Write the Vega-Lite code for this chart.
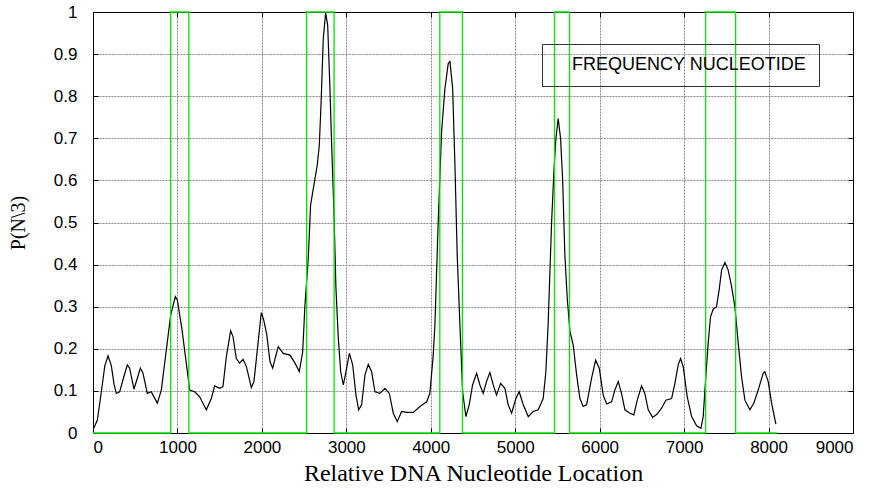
{
  "$schema": "https://vega.github.io/schema/vega-lite/v6.json",
  "width": 760,
  "height": 421,
  "autosize": "none",
  "padding": {"left": 93, "top": 12, "right": 30, "bottom": 56},
  "background": "white",
  "config": {
    "view": {"stroke": "black", "strokeWidth": 1},
    "axis": {
      "labelFont": "Liberation Sans",
      "labelFontSize": 17,
      "labelColor": "black",
      "domainColor": "black",
      "tickColor": "black",
      "gridColor": "#8a8a8a",
      "gridDash": [2, 1],
      "gridWidth": 1,
      "titleFont": "Liberation Serif",
      "titleFontSize": 20,
      "titleFontWeight": "normal",
      "titleColor": "black"
    }
  },
  "datasets": {
    "curve": [
      {"x": 10, "y": 0.012, "series": "FREQUENCY NUCLEOTIDE"},
      {"x": 51, "y": 0.03, "series": "FREQUENCY NUCLEOTIDE"},
      {"x": 99, "y": 0.098, "series": "FREQUENCY NUCLEOTIDE"},
      {"x": 140, "y": 0.16, "series": "FREQUENCY NUCLEOTIDE"},
      {"x": 178, "y": 0.183, "series": "FREQUENCY NUCLEOTIDE"},
      {"x": 217, "y": 0.16, "series": "FREQUENCY NUCLEOTIDE"},
      {"x": 250, "y": 0.115, "series": "FREQUENCY NUCLEOTIDE"},
      {"x": 276, "y": 0.094, "series": "FREQUENCY NUCLEOTIDE"},
      {"x": 316, "y": 0.098, "series": "FREQUENCY NUCLEOTIDE"},
      {"x": 360, "y": 0.13, "series": "FREQUENCY NUCLEOTIDE"},
      {"x": 406, "y": 0.162, "series": "FREQUENCY NUCLEOTIDE"},
      {"x": 434, "y": 0.154, "series": "FREQUENCY NUCLEOTIDE"},
      {"x": 485, "y": 0.104, "series": "FREQUENCY NUCLEOTIDE"},
      {"x": 525, "y": 0.13, "series": "FREQUENCY NUCLEOTIDE"},
      {"x": 561, "y": 0.154, "series": "FREQUENCY NUCLEOTIDE"},
      {"x": 592, "y": 0.142, "series": "FREQUENCY NUCLEOTIDE"},
      {"x": 643, "y": 0.094, "series": "FREQUENCY NUCLEOTIDE"},
      {"x": 691, "y": 0.098, "series": "FREQUENCY NUCLEOTIDE"},
      {"x": 710, "y": 0.09, "series": "FREQUENCY NUCLEOTIDE"},
      {"x": 762, "y": 0.071, "series": "FREQUENCY NUCLEOTIDE"},
      {"x": 809, "y": 0.102, "series": "FREQUENCY NUCLEOTIDE"},
      {"x": 868, "y": 0.197, "series": "FREQUENCY NUCLEOTIDE"},
      {"x": 920, "y": 0.28, "series": "FREQUENCY NUCLEOTIDE"},
      {"x": 975, "y": 0.324, "series": "FREQUENCY NUCLEOTIDE"},
      {"x": 999, "y": 0.316, "series": "FREQUENCY NUCLEOTIDE"},
      {"x": 1054, "y": 0.245, "series": "FREQUENCY NUCLEOTIDE"},
      {"x": 1105, "y": 0.166, "series": "FREQUENCY NUCLEOTIDE"},
      {"x": 1145, "y": 0.102, "series": "FREQUENCY NUCLEOTIDE"},
      {"x": 1204, "y": 0.098, "series": "FREQUENCY NUCLEOTIDE"},
      {"x": 1263, "y": 0.086, "series": "FREQUENCY NUCLEOTIDE"},
      {"x": 1342, "y": 0.055, "series": "FREQUENCY NUCLEOTIDE"},
      {"x": 1401, "y": 0.082, "series": "FREQUENCY NUCLEOTIDE"},
      {"x": 1441, "y": 0.112, "series": "FREQUENCY NUCLEOTIDE"},
      {"x": 1500, "y": 0.106, "series": "FREQUENCY NUCLEOTIDE"},
      {"x": 1539, "y": 0.11, "series": "FREQUENCY NUCLEOTIDE"},
      {"x": 1579, "y": 0.181, "series": "FREQUENCY NUCLEOTIDE"},
      {"x": 1630, "y": 0.243, "series": "FREQUENCY NUCLEOTIDE"},
      {"x": 1658, "y": 0.229, "series": "FREQUENCY NUCLEOTIDE"},
      {"x": 1697, "y": 0.177, "series": "FREQUENCY NUCLEOTIDE"},
      {"x": 1737, "y": 0.166, "series": "FREQUENCY NUCLEOTIDE"},
      {"x": 1776, "y": 0.175, "series": "FREQUENCY NUCLEOTIDE"},
      {"x": 1816, "y": 0.158, "series": "FREQUENCY NUCLEOTIDE"},
      {"x": 1875, "y": 0.108, "series": "FREQUENCY NUCLEOTIDE"},
      {"x": 1906, "y": 0.122, "series": "FREQUENCY NUCLEOTIDE"},
      {"x": 1954, "y": 0.213, "series": "FREQUENCY NUCLEOTIDE"},
      {"x": 1993, "y": 0.286, "series": "FREQUENCY NUCLEOTIDE"},
      {"x": 2020, "y": 0.27, "series": "FREQUENCY NUCLEOTIDE"},
      {"x": 2057, "y": 0.235, "series": "FREQUENCY NUCLEOTIDE"},
      {"x": 2096, "y": 0.169, "series": "FREQUENCY NUCLEOTIDE"},
      {"x": 2128, "y": 0.154, "series": "FREQUENCY NUCLEOTIDE"},
      {"x": 2160, "y": 0.18, "series": "FREQUENCY NUCLEOTIDE"},
      {"x": 2194, "y": 0.205, "series": "FREQUENCY NUCLEOTIDE"},
      {"x": 2253, "y": 0.189, "series": "FREQUENCY NUCLEOTIDE"},
      {"x": 2333, "y": 0.185, "series": "FREQUENCY NUCLEOTIDE"},
      {"x": 2392, "y": 0.166, "series": "FREQUENCY NUCLEOTIDE"},
      {"x": 2443, "y": 0.146, "series": "FREQUENCY NUCLEOTIDE"},
      {"x": 2483, "y": 0.193, "series": "FREQUENCY NUCLEOTIDE"},
      {"x": 2510, "y": 0.304, "series": "FREQUENCY NUCLEOTIDE"},
      {"x": 2549, "y": 0.415, "series": "FREQUENCY NUCLEOTIDE"},
      {"x": 2577, "y": 0.542, "series": "FREQUENCY NUCLEOTIDE"},
      {"x": 2629, "y": 0.605, "series": "FREQUENCY NUCLEOTIDE"},
      {"x": 2656, "y": 0.637, "series": "FREQUENCY NUCLEOTIDE"},
      {"x": 2680, "y": 0.684, "series": "FREQUENCY NUCLEOTIDE"},
      {"x": 2700, "y": 0.779, "series": "FREQUENCY NUCLEOTIDE"},
      {"x": 2727, "y": 0.937, "series": "FREQUENCY NUCLEOTIDE"},
      {"x": 2755, "y": 0.998, "series": "FREQUENCY NUCLEOTIDE"},
      {"x": 2779, "y": 0.969, "series": "FREQUENCY NUCLEOTIDE"},
      {"x": 2806, "y": 0.819, "series": "FREQUENCY NUCLEOTIDE"},
      {"x": 2826, "y": 0.684, "series": "FREQUENCY NUCLEOTIDE"},
      {"x": 2853, "y": 0.526, "series": "FREQUENCY NUCLEOTIDE"},
      {"x": 2877, "y": 0.344, "series": "FREQUENCY NUCLEOTIDE"},
      {"x": 2905, "y": 0.225, "series": "FREQUENCY NUCLEOTIDE"},
      {"x": 2933, "y": 0.146, "series": "FREQUENCY NUCLEOTIDE"},
      {"x": 2964, "y": 0.114, "series": "FREQUENCY NUCLEOTIDE"},
      {"x": 2996, "y": 0.146, "series": "FREQUENCY NUCLEOTIDE"},
      {"x": 3036, "y": 0.189, "series": "FREQUENCY NUCLEOTIDE"},
      {"x": 3075, "y": 0.162, "series": "FREQUENCY NUCLEOTIDE"},
      {"x": 3114, "y": 0.09, "series": "FREQUENCY NUCLEOTIDE"},
      {"x": 3146, "y": 0.055, "series": "FREQUENCY NUCLEOTIDE"},
      {"x": 3181, "y": 0.067, "series": "FREQUENCY NUCLEOTIDE"},
      {"x": 3221, "y": 0.138, "series": "FREQUENCY NUCLEOTIDE"},
      {"x": 3260, "y": 0.163, "series": "FREQUENCY NUCLEOTIDE"},
      {"x": 3299, "y": 0.146, "series": "FREQUENCY NUCLEOTIDE"},
      {"x": 3339, "y": 0.098, "series": "FREQUENCY NUCLEOTIDE"},
      {"x": 3398, "y": 0.094, "series": "FREQUENCY NUCLEOTIDE"},
      {"x": 3457, "y": 0.106, "series": "FREQUENCY NUCLEOTIDE"},
      {"x": 3509, "y": 0.094, "series": "FREQUENCY NUCLEOTIDE"},
      {"x": 3556, "y": 0.047, "series": "FREQUENCY NUCLEOTIDE"},
      {"x": 3603, "y": 0.027, "series": "FREQUENCY NUCLEOTIDE"},
      {"x": 3655, "y": 0.051, "series": "FREQUENCY NUCLEOTIDE"},
      {"x": 3714, "y": 0.049, "series": "FREQUENCY NUCLEOTIDE"},
      {"x": 3793, "y": 0.049, "series": "FREQUENCY NUCLEOTIDE"},
      {"x": 3872, "y": 0.063, "series": "FREQUENCY NUCLEOTIDE"},
      {"x": 3951, "y": 0.074, "series": "FREQUENCY NUCLEOTIDE"},
      {"x": 3990, "y": 0.095, "series": "FREQUENCY NUCLEOTIDE"},
      {"x": 4029, "y": 0.185, "series": "FREQUENCY NUCLEOTIDE"},
      {"x": 4049, "y": 0.257, "series": "FREQUENCY NUCLEOTIDE"},
      {"x": 4088, "y": 0.502, "series": "FREQUENCY NUCLEOTIDE"},
      {"x": 4128, "y": 0.716, "series": "FREQUENCY NUCLEOTIDE"},
      {"x": 4168, "y": 0.819, "series": "FREQUENCY NUCLEOTIDE"},
      {"x": 4207, "y": 0.878, "series": "FREQUENCY NUCLEOTIDE"},
      {"x": 4227, "y": 0.882, "series": "FREQUENCY NUCLEOTIDE"},
      {"x": 4259, "y": 0.819, "series": "FREQUENCY NUCLEOTIDE"},
      {"x": 4286, "y": 0.637, "series": "FREQUENCY NUCLEOTIDE"},
      {"x": 4313, "y": 0.423, "series": "FREQUENCY NUCLEOTIDE"},
      {"x": 4345, "y": 0.257, "series": "FREQUENCY NUCLEOTIDE"},
      {"x": 4377, "y": 0.098, "series": "FREQUENCY NUCLEOTIDE"},
      {"x": 4416, "y": 0.039, "series": "FREQUENCY NUCLEOTIDE"},
      {"x": 4455, "y": 0.067, "series": "FREQUENCY NUCLEOTIDE"},
      {"x": 4495, "y": 0.114, "series": "FREQUENCY NUCLEOTIDE"},
      {"x": 4543, "y": 0.142, "series": "FREQUENCY NUCLEOTIDE"},
      {"x": 4582, "y": 0.114, "series": "FREQUENCY NUCLEOTIDE"},
      {"x": 4621, "y": 0.094, "series": "FREQUENCY NUCLEOTIDE"},
      {"x": 4660, "y": 0.122, "series": "FREQUENCY NUCLEOTIDE"},
      {"x": 4700, "y": 0.144, "series": "FREQUENCY NUCLEOTIDE"},
      {"x": 4740, "y": 0.114, "series": "FREQUENCY NUCLEOTIDE"},
      {"x": 4779, "y": 0.09, "series": "FREQUENCY NUCLEOTIDE"},
      {"x": 4827, "y": 0.118, "series": "FREQUENCY NUCLEOTIDE"},
      {"x": 4878, "y": 0.106, "series": "FREQUENCY NUCLEOTIDE"},
      {"x": 4917, "y": 0.067, "series": "FREQUENCY NUCLEOTIDE"},
      {"x": 4957, "y": 0.047, "series": "FREQUENCY NUCLEOTIDE"},
      {"x": 5008, "y": 0.082, "series": "FREQUENCY NUCLEOTIDE"},
      {"x": 5047, "y": 0.098, "series": "FREQUENCY NUCLEOTIDE"},
      {"x": 5095, "y": 0.067, "series": "FREQUENCY NUCLEOTIDE"},
      {"x": 5154, "y": 0.039, "series": "FREQUENCY NUCLEOTIDE"},
      {"x": 5213, "y": 0.051, "series": "FREQUENCY NUCLEOTIDE"},
      {"x": 5272, "y": 0.055, "series": "FREQUENCY NUCLEOTIDE"},
      {"x": 5331, "y": 0.082, "series": "FREQUENCY NUCLEOTIDE"},
      {"x": 5363, "y": 0.146, "series": "FREQUENCY NUCLEOTIDE"},
      {"x": 5391, "y": 0.264, "series": "FREQUENCY NUCLEOTIDE"},
      {"x": 5431, "y": 0.502, "series": "FREQUENCY NUCLEOTIDE"},
      {"x": 5458, "y": 0.621, "series": "FREQUENCY NUCLEOTIDE"},
      {"x": 5482, "y": 0.7, "series": "FREQUENCY NUCLEOTIDE"},
      {"x": 5509, "y": 0.747, "series": "FREQUENCY NUCLEOTIDE"},
      {"x": 5537, "y": 0.7, "series": "FREQUENCY NUCLEOTIDE"},
      {"x": 5561, "y": 0.605, "series": "FREQUENCY NUCLEOTIDE"},
      {"x": 5588, "y": 0.423, "series": "FREQUENCY NUCLEOTIDE"},
      {"x": 5616, "y": 0.32, "series": "FREQUENCY NUCLEOTIDE"},
      {"x": 5648, "y": 0.241, "series": "FREQUENCY NUCLEOTIDE"},
      {"x": 5687, "y": 0.209, "series": "FREQUENCY NUCLEOTIDE"},
      {"x": 5727, "y": 0.138, "series": "FREQUENCY NUCLEOTIDE"},
      {"x": 5766, "y": 0.082, "series": "FREQUENCY NUCLEOTIDE"},
      {"x": 5805, "y": 0.063, "series": "FREQUENCY NUCLEOTIDE"},
      {"x": 5845, "y": 0.067, "series": "FREQUENCY NUCLEOTIDE"},
      {"x": 5904, "y": 0.13, "series": "FREQUENCY NUCLEOTIDE"},
      {"x": 5952, "y": 0.173, "series": "FREQUENCY NUCLEOTIDE"},
      {"x": 5995, "y": 0.154, "series": "FREQUENCY NUCLEOTIDE"},
      {"x": 6042, "y": 0.09, "series": "FREQUENCY NUCLEOTIDE"},
      {"x": 6082, "y": 0.069, "series": "FREQUENCY NUCLEOTIDE"},
      {"x": 6141, "y": 0.074, "series": "FREQUENCY NUCLEOTIDE"},
      {"x": 6180, "y": 0.102, "series": "FREQUENCY NUCLEOTIDE"},
      {"x": 6220, "y": 0.122, "series": "FREQUENCY NUCLEOTIDE"},
      {"x": 6259, "y": 0.094, "series": "FREQUENCY NUCLEOTIDE"},
      {"x": 6299, "y": 0.055, "series": "FREQUENCY NUCLEOTIDE"},
      {"x": 6358, "y": 0.047, "series": "FREQUENCY NUCLEOTIDE"},
      {"x": 6405, "y": 0.043, "series": "FREQUENCY NUCLEOTIDE"},
      {"x": 6445, "y": 0.078, "series": "FREQUENCY NUCLEOTIDE"},
      {"x": 6496, "y": 0.112, "series": "FREQUENCY NUCLEOTIDE"},
      {"x": 6535, "y": 0.094, "series": "FREQUENCY NUCLEOTIDE"},
      {"x": 6575, "y": 0.055, "series": "FREQUENCY NUCLEOTIDE"},
      {"x": 6627, "y": 0.037, "series": "FREQUENCY NUCLEOTIDE"},
      {"x": 6681, "y": 0.045, "series": "FREQUENCY NUCLEOTIDE"},
      {"x": 6733, "y": 0.059, "series": "FREQUENCY NUCLEOTIDE"},
      {"x": 6784, "y": 0.078, "series": "FREQUENCY NUCLEOTIDE"},
      {"x": 6852, "y": 0.082, "series": "FREQUENCY NUCLEOTIDE"},
      {"x": 6891, "y": 0.118, "series": "FREQUENCY NUCLEOTIDE"},
      {"x": 6930, "y": 0.162, "series": "FREQUENCY NUCLEOTIDE"},
      {"x": 6958, "y": 0.177, "series": "FREQUENCY NUCLEOTIDE"},
      {"x": 6989, "y": 0.158, "series": "FREQUENCY NUCLEOTIDE"},
      {"x": 7037, "y": 0.086, "series": "FREQUENCY NUCLEOTIDE"},
      {"x": 7089, "y": 0.039, "series": "FREQUENCY NUCLEOTIDE"},
      {"x": 7148, "y": 0.017, "series": "FREQUENCY NUCLEOTIDE"},
      {"x": 7199, "y": 0.011, "series": "FREQUENCY NUCLEOTIDE"},
      {"x": 7226, "y": 0.039, "series": "FREQUENCY NUCLEOTIDE"},
      {"x": 7257, "y": 0.134, "series": "FREQUENCY NUCLEOTIDE"},
      {"x": 7285, "y": 0.213, "series": "FREQUENCY NUCLEOTIDE"},
      {"x": 7313, "y": 0.276, "series": "FREQUENCY NUCLEOTIDE"},
      {"x": 7344, "y": 0.294, "series": "FREQUENCY NUCLEOTIDE"},
      {"x": 7384, "y": 0.3, "series": "FREQUENCY NUCLEOTIDE"},
      {"x": 7415, "y": 0.34, "series": "FREQUENCY NUCLEOTIDE"},
      {"x": 7444, "y": 0.387, "series": "FREQUENCY NUCLEOTIDE"},
      {"x": 7483, "y": 0.405, "series": "FREQUENCY NUCLEOTIDE"},
      {"x": 7522, "y": 0.387, "series": "FREQUENCY NUCLEOTIDE"},
      {"x": 7562, "y": 0.348, "series": "FREQUENCY NUCLEOTIDE"},
      {"x": 7601, "y": 0.3, "series": "FREQUENCY NUCLEOTIDE"},
      {"x": 7641, "y": 0.213, "series": "FREQUENCY NUCLEOTIDE"},
      {"x": 7680, "y": 0.134, "series": "FREQUENCY NUCLEOTIDE"},
      {"x": 7720, "y": 0.078, "series": "FREQUENCY NUCLEOTIDE"},
      {"x": 7779, "y": 0.055, "series": "FREQUENCY NUCLEOTIDE"},
      {"x": 7826, "y": 0.071, "series": "FREQUENCY NUCLEOTIDE"},
      {"x": 7877, "y": 0.102, "series": "FREQUENCY NUCLEOTIDE"},
      {"x": 7936, "y": 0.142, "series": "FREQUENCY NUCLEOTIDE"},
      {"x": 7956, "y": 0.146, "series": "FREQUENCY NUCLEOTIDE"},
      {"x": 7996, "y": 0.122, "series": "FREQUENCY NUCLEOTIDE"},
      {"x": 8036, "y": 0.071, "series": "FREQUENCY NUCLEOTIDE"},
      {"x": 8087, "y": 0.021, "series": "FREQUENCY NUCLEOTIDE"}
    ],
    "genes": [
      {"x": 0, "y": 0},
      {"x": 920, "y": 1},
      {"x": 1135, "y": 0},
      {"x": 2530, "y": 1},
      {"x": 2855, "y": 0},
      {"x": 4107, "y": 1},
      {"x": 4375, "y": 0},
      {"x": 5465, "y": 1},
      {"x": 5643, "y": 0},
      {"x": 7255, "y": 1},
      {"x": 7610, "y": 0},
      {"x": 8100, "y": 0}
    ]
  },
  "layer": [
    {
      "data": {"name": "curve"},
      "mark": {"type": "line", "strokeWidth": 1.2},
      "encoding": {
        "x": {
          "field": "x", "type": "quantitative",
          "scale": {"domain": [0, 9000], "nice": false},
          "axis": {
            "values": [0, 1000, 2000, 3000, 4000, 5000, 6000, 7000, 8000, 9000],
            "format": "d",
            "title": "Relative DNA Nucleotide Location",
            "titleFontSize": 24,
            "grid": true, "tickSize": -5, "labelPadding": 11, "titlePadding": 6
          }
        },
        "y": {
          "field": "y", "type": "quantitative",
          "scale": {"domain": [0, 1], "nice": false},
          "axis": {
            "values": [0, 0.1, 0.2, 0.3, 0.4, 0.5, 0.6, 0.7, 0.8, 0.9, 1],
            "format": "~g",
            "title": "P(N\\3)",
            "grid": true, "tickSize": -5, "labelPadding": 21, "titlePadding": 25
          }
        },
        "color": {
          "field": "series", "type": "nominal",
          "scale": {"range": ["black"]},
          "legend": {
            "orient": "none", "legendX": 449, "legendY": 32,
            "title": null,
            "symbolType": "stroke", "symbolSize": 0, "symbolStrokeWidth": 0, "symbolOpacity": 0,
            "labelOffset": 0, "labelFont": "Liberation Sans", "labelFontSize": 18, "labelColor": "black",
            "labelLimit": 400,
            "strokeColor": "#333333", "padding": 12
          }
        }
      }
    },
    {
      "data": {"name": "genes"},
      "mark": {"type": "line", "interpolate": "step-after", "color": "#00e600", "strokeWidth": 1.3},
      "encoding": {
        "x": {
          "field": "x", "type": "quantitative",
          "scale": {"domain": [0, 9000], "nice": false},
          "axis": {"orient": "top", "labels": false, "grid": false, "title": null, "tickSize": -5,
                   "values": [0, 1000, 2000, 3000, 4000, 5000, 6000, 7000, 8000, 9000]}
        },
        "y": {
          "field": "y", "type": "quantitative",
          "scale": {"domain": [0, 1], "nice": false},
          "axis": {"orient": "right", "labels": false, "grid": false, "title": null, "tickSize": -5,
                   "values": [0, 0.1, 0.2, 0.3, 0.4, 0.5, 0.6, 0.7, 0.8, 0.9, 1]}
        }
      }
    }
  ],
  "resolve": {"axis": {"x": "independent", "y": "independent"}}
}
